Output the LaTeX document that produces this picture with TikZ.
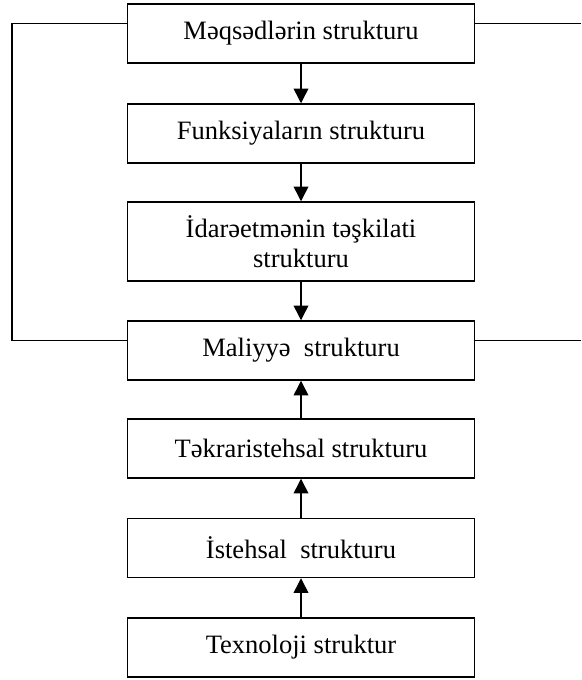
\documentclass[tikz,border=0pt]{standalone}
\usepackage{fontspec}
\setmainfont{Liberation Serif}
\usepackage{tikz}
\usetikzlibrary{arrows.meta, positioning}

\begin{document}
\begin{tikzpicture}[x=0.75pt, y=-0.75pt,
    blok/.style={draw, line width=1.1pt, minimum width=260.5pt, minimum height=44.25pt,
                 inner sep=0pt, align=center, font=\fontsize{19.9}{22.5}\selectfont},
    ox/.style={line width=1.1pt, -{Triangle[width=11pt, length=11pt]}},
    xett/.style={line width=1.1pt}]
    \useasboundingbox (0, 0) rectangle (581, 680);

    \node[blok] (maq) at (301, 33.5) {Məqsədlərin strukturu};
    \node[blok] (fun) at (301, 133.5) {Funksiyaların strukturu};
    \node[blok, minimum height=59.25pt] (ida) at (301, 241.5) {İdarəetmənin təşkilati\\strukturu};
    \node[blok] (mal) at (301, 350.5) {Maliyyə~~strukturu};
    \node[blok] (tek) at (301, 448.5) {Təkraristehsal strukturu};
    \node[blok] (ist) at (301, 548) {İstehsal~~strukturu};
    \node[blok] (tex) at (301, 647.5) {Texnoloji struktur};

    \draw[ox] (maq) -- (fun);
    \draw[ox] (fun) -- (ida);
    \draw[ox] (ida) -- (mal);
    \draw[ox] (tek) -- (mal);
    \draw[ox] (ist) -- (tek);
    \draw[ox] (tex) -- (ist);

    \coordinate (m1) at ([yshift=-15pt]maq.north west);
    \coordinate (m2) at ([yshift=-15pt]maq.north east);
    \coordinate (k1) at ([yshift=-15pt]mal.north west);
    \coordinate (k2) at ([yshift=-15pt]mal.north east);
    \coordinate (sol) at (12, 200);
    \coordinate (sag) at (581, 200);
    \draw[xett] (m1) -| (sol) |- (k1);
    \draw[xett] (m2) -- (sag |- m2);
    \draw[xett] (k2) -- (sag |- k2);
\end{tikzpicture}
\end{document}
